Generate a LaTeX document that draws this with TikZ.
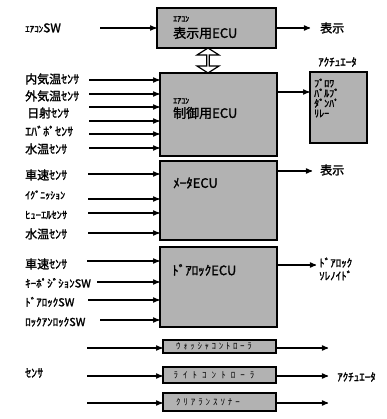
\documentclass[tikz,border=0pt]{standalone}
\usepackage{fontspec}
\setmainfont[AutoFakeBold=1.6]{Noto Sans CJK JP}
\newfontfamily\widekana{Noto Sans CJK JP}
\usetikzlibrary{arrows,shapes.arrows}

\begin{document}
\begin{tikzpicture}[x=1pt,y=-1pt,>=stealth']
\tikzset{
    ecu/.style={%
        draw=black, line width=1.6pt,
        rectangle,
        fill=black!30,
        inner sep=0pt
        },
    lbl/.style={anchor=west, inner sep=0pt, font=\fontsize{12}{14}\selectfont\bfseries},
    ecutxt/.style={anchor=west, inner sep=0pt, font=\fontsize{13}{15}\selectfont\bfseries},
    tinytxt/.style={anchor=west, inner sep=0pt, font=\fontsize{8}{9}\selectfont\bfseries},
    boxtxt/.style={inner sep=0pt, text=black, font=\widekana\fontsize{9}{10}\selectfont},
    sig/.style={->, line width=1.2pt},
}
\useasboundingbox (0,0) rectangle (386,419);
%%%ECUS
\node[ecu, minimum width=119pt, minimum height=40pt] (disp) at (216.5,28) {};
\node[ecu, minimum width=117pt, minimum height=83pt] (ctl) at (218.5,114.5) {};
\node[ecu, minimum width=117pt, minimum height=79pt] (meter) at (218.5,200.5) {};
\node[ecu, minimum width=117pt, minimum height=80pt] (door) at (218.5,287) {};
\node[ecu, minimum width=57pt, minimum height=71pt] (act) at (338.5,107.5) {};
\node[ecu, minimum width=113pt, minimum height=13pt] (wash) at (219.5,346.5) {};
\node[ecu, minimum width=113pt, minimum height=16pt] (light) at (219.5,375) {};
\node[ecu, minimum width=113pt, minimum height=18pt] (sonar) at (219.5,402) {};
%%%BOX TEXTS
\node[tinytxt] (dispa) at (173,19) {ｴｱｺﾝ};
\node[ecutxt] (dispb) at (173,33) {表示用ECU};
\node[tinytxt] (ctla) at (173,101) {ｴｱｺﾝ};
\node[ecutxt] (ctlb) at (173,113) {制御用ECU};
\node[ecutxt] (metera) at (173,183) {ﾒｰﾀECU};
\node[ecutxt] (doora) at (172,270) {ﾄﾞｱﾛｯｸECU};
\node[tinytxt, align=left, font=\fontsize{10}{10}\selectfont\bfseries] (acta) at (314,98) {ﾌﾞﾛﾜ\\ﾊﾞﾙﾌﾞ\\ﾀﾞﾝﾊﾟ\\ﾘﾚｰ};
\node[boxtxt, font=\widekana\fontsize{9}{10}\selectfont\addfontfeature{LetterSpace=29}] (washa) at (214,346.5) {ｳｫｯｼｬｺﾝﾄﾛｰﾗ};
\node[boxtxt, font=\widekana\fontsize{9}{10}\selectfont\addfontfeature{LetterSpace=56}] (lighta) at (214,375) {ﾗｲﾄｺﾝﾄﾛｰﾗ};
\node[boxtxt, font=\widekana\fontsize{9}{10}\selectfont\addfontfeature{LetterSpace=32}] (sonara) at (208,402) {ｸﾘｱﾗﾝｽｿﾅｰ};
%%%LINK
\node[draw=black, line width=1.2pt, fill=white, shape=double arrow, rotate=90,
      minimum height=25pt, minimum width=22pt, double arrow head extend=5pt,
      double arrow tip angle=115, inner sep=0pt] (link) at (208,60.5) {};
%%%INPUTS
\node[lbl] (sw) at (25,28) {{\fontsize{9}{10}\selectfont ｴｱｺﾝ}SW};
\node[lbl] (in1) at (25,79) {内気温ｾﾝｻ};
\node[lbl] (in2) at (25,96) {外気温ｾﾝｻ};
\node[lbl] (in3) at (27,113) {日射ｾﾝｻ};
\node[lbl] (in4) at (25,131) {ｴﾊﾞﾎﾟｾﾝｻ};
\node[lbl] (in5) at (25,149) {水温ｾﾝｻ};
\node[lbl] (in6) at (25,175) {車速ｾﾝｻ};
\node[lbl, font=\fontsize{10}{12}\selectfont\bfseries] (in7) at (25,195) {ｲｸﾞﾆｯｼｮﾝ};
\node[lbl, font=\fontsize{10.5}{12}\selectfont\bfseries] (in8) at (25,215) {ﾋｭｰｴﾙｾﾝｻ};
\node[lbl] (in9) at (25,234) {水温ｾﾝｻ};
\node[lbl] (in10) at (25,264) {車速ｾﾝｻ};
\node[lbl, font=\fontsize{11}{13}\selectfont\bfseries] (in11) at (25,283) {ｷｰﾎﾟｼﾞｼｮﾝSW};
\node[lbl, font=\fontsize{11}{13}\selectfont\bfseries] (in12) at (25,302) {ﾄﾞｱﾛｯｸSW};
\node[lbl, font=\fontsize{11}{13}\selectfont\bfseries] (in13) at (25,322) {ﾛｯｸｱﾝﾛｯｸSW};
\node[lbl] (in14) at (25,373) {ｾﾝｻ};
%%%OUTPUTS
\node[lbl] (out1) at (320,28) {表示};
\node[lbl, font=\fontsize{11}{13}\selectfont\bfseries] (out2) at (318,62) {ｱｸﾁｭｴｰﾀ};
\node[lbl] (out3) at (320,170) {表示};
\node[lbl, font=\fontsize{11}{13}\selectfont\bfseries, align=left] (out4) at (319,269) {ﾄﾞｱﾛｯｸ\\ ｿﾚﾉｲﾄﾞ};
\node[lbl, font=\fontsize{11}{13}\selectfont\bfseries] (out5) at (337,377) {ｱｸﾁｭｴｰﾀ};
%%%ARROWS IN
\coordinate (s0) at (100,28);
\draw[sig] (s0) -- (s0 -| disp.west);
\foreach \y [count=\i] in {80,94,107,121,134,148}
    \draw[sig] (89,\y) coordinate (c\i) -- (c\i -| ctl.west);
\foreach \y [count=\i] in {174,199,213,233}
    \draw[sig] (88,\y) coordinate (m\i) -- (m\i -| meter.west);
\foreach \x/\y [count=\i] in {87/261,97/282,88/300,100/320}
    \draw[sig] (\x,\y) coordinate (d\i) -- (d\i -| door.west);
\coordinate (b1) at (87,348);
\coordinate (b2) at (87,376);
\coordinate (b3) at (87,403);
\draw[sig] (b1) -- (b1 -| wash.west);
\draw[sig] (b2) -- (b2 -| light.west);
\draw[sig] (b3) -- (b3 -| sonar.west);
%%%ARROWS OUT
\coordinate (e1) at (310,28);
\coordinate (e3) at (312,171);
\coordinate (e4) at (316,265);
\coordinate (e5) at (328,348);
\coordinate (e6) at (328,376);
\coordinate (e7) at (328,403);
\draw[sig] (disp.east |- e1) -- (e1);
\draw[sig] (ctl.east |- 0,92) -- (act.west |- 0,92);
\draw[sig] (meter.east |- e3) -- (e3);
\draw[sig] (door.east |- e4) -- (e4);
\draw[sig] (wash.east |- e5) -- (e5);
\draw[sig] (light.east |- e6) -- (e6);
\draw[sig] (sonar.east |- e7) -- (e7);
\end{tikzpicture}
\end{document}
